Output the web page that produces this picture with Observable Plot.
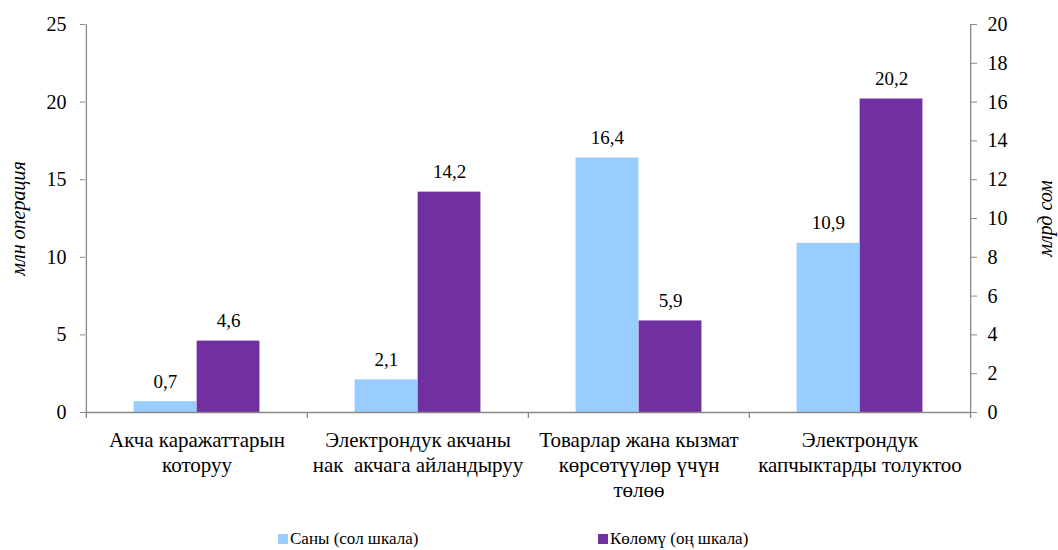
<!DOCTYPE html>
<html>
<head>
<meta charset="utf-8">
<script src="https://cdn.jsdelivr.net/npm/d3@7"></script>
<script src="https://cdn.jsdelivr.net/npm/@observablehq/plot@0.6"></script>
<style>
  body { margin: 0; background: #fff; font-family: "Liberation Serif", "Times New Roman", serif; }
  svg text { font-family: "Liberation Serif", "Times New Roman", serif; }
  #legend { position: relative; height: 30px; width: 1058px; font-size: 17px; color: #000; }
  .item { position: absolute; top: 0; line-height: 38px; white-space: nowrap; }
  .sw { display: inline-block; width: 10px; height: 10px; margin-right: 2px; }
</style>
</head>
<body>
<div id="chart"></div>
<div id="legend"></div>
<script>
const categories = ["Акча каражаттарын которуу", "Электрондук акчаны нак акчага айландыруу", "Товарлар жана кызмат көрсөтүүлөр үчүн төлөө", "Электрондук капчыктарды толуктоо"];
const categoryLabels = ["Акча каражаттарын\nкоторуу", "Электрондук акчаны\nнак  акчага айландыруу", "Товарлар жана кызмат\nкөрсөтүүлөр үчүн\nтөлөө", "Электрондук\nкапчыктарды толуктоо"];
const counts = [0.7, 2.1, 16.4, 10.9];   // Саны (сол шкала), млн операция
const volumes = [4.6, 14.2, 5.9, 20.2];  // Көлөмү (оң шкала), млрд сом
const seriesNames = ["Саны (сол шкала)", "Көлөмү (оң шкала)"];
const seriesColors = ["#99CCFF", "#7030A0"];
const leftTicks = [0, 5, 10, 15, 20, 25];
const rightTicks = [0, 2, 4, 6, 8, 10, 12, 14, 16, 18, 20];
const leftMax = 25, rightMax = 20;
const leftTitle = "млн операция", rightTitle = "млрд сом";

const FONT = "Liberation Serif, Times New Roman, serif";
const W = 1058, H = 520, ml = 85, mr = 88, mt = 24, mb = 108;
const bw = (W - ml - mr) / categories.length;
const groupFrac = 0.57;
const barW = bw * groupFrac / 2;
const outer = (bw - 2 * barW) / 2;
const axisColor = "#898989";
const fmt = v => d3.format(".1f")(v).replace(".", ",");

const rows = categories.map((c, i) => ({cat: c, label: categoryLabels[i], count: counts[i], volume: volumes[i]}));

const chart = Plot.plot({
  width: W, height: H,
  marginLeft: ml, marginRight: mr, marginTop: mt, marginBottom: mb,
  style: {fontFamily: FONT, fontSize: "19px", color: "#000", background: "#fff"},
  x: {domain: categories, padding: 0, axis: null},
  y: {domain: [0, leftMax], axis: null},
  marks: [
    Plot.barY(rows, {x: "cat", y: "count", fill: seriesColors[0], insetLeft: outer, insetRight: bw - outer - barW}),
    Plot.barY(rows, {x: "cat", y: "volume", fill: seriesColors[1], insetLeft: outer + barW, insetRight: outer}),
    Plot.text(rows, {x: "cat", y: "count", text: d => fmt(d.count), dx: -barW / 2, dy: -14, lineAnchor: "bottom", fontSize: 19, fontFamily: FONT}),
    Plot.text(rows, {x: "cat", y: "volume", text: d => fmt(d.volume), dx: barW / 2, dy: -14, lineAnchor: "bottom", fontSize: 19, fontFamily: FONT}),
    Plot.ruleY([0], {stroke: axisColor, strokeWidth: 1.3}),
    // category boundary ticks
    Plot.ruleX(categories, {x: d => d, y1: 0, y2: 0, dx: -bw / 2, insetBottom: -6, stroke: axisColor, strokeWidth: 1.3}),
    Plot.ruleX([categories[categories.length - 1]], {x: d => d, y1: 0, y2: 0, dx: bw / 2, insetBottom: -6, stroke: axisColor, strokeWidth: 1.3}),
    // axis lines
    Plot.ruleX([categories[0]], {x: d => d, y1: 0, y2: leftMax, dx: -bw / 2, stroke: axisColor, strokeWidth: 1.3}),
    Plot.ruleX([categories[categories.length - 1]], {x: d => d, y1: 0, y2: leftMax, dx: bw / 2, stroke: axisColor, strokeWidth: 1.3}),
    Plot.axisY({anchor: "left", ticks: leftTicks, tickSize: 5, tickPadding: 14, stroke: axisColor, fill: "#000", fontSize: 20, fontFamily: FONT, label: null}),
    Plot.axisY({anchor: "right", ticks: rightTicks.map(v => v * leftMax / rightMax), tickFormat: v => String(Math.round(v * rightMax / leftMax)), tickSize: 6, tickPadding: 11, stroke: axisColor, fill: "#000", fontSize: 20, fontFamily: FONT, label: null}),
    Plot.text(rows, {x: "cat", text: "label", frameAnchor: "bottom", lineAnchor: "top", dy: 17, fontSize: 21, lineHeight: 1.19, fontFamily: FONT}),
    Plot.text([leftTitle], {frameAnchor: "left", textAnchor: "middle", rotate: -90, dx: -67, fontSize: 20, fontStyle: "italic", fontFamily: FONT}),
    Plot.text([rightTitle], {frameAnchor: "right", textAnchor: "middle", rotate: -90, dx: 75, fontSize: 20, fontStyle: "italic", fontFamily: FONT})
  ]
});
document.getElementById("chart").appendChild(chart);

const legend = document.getElementById("legend");
const legendLeft = [278, 598];
seriesNames.forEach((name, i) => {
  const item = document.createElement("span");
  item.className = "item";
  item.style.left = legendLeft[i] + "px";
  const sw = document.createElement("span");
  sw.className = "sw";
  sw.style.background = seriesColors[i];
  item.appendChild(sw);
  item.appendChild(document.createTextNode(name));
  legend.appendChild(item);
});
</script>
</body>
</html>
